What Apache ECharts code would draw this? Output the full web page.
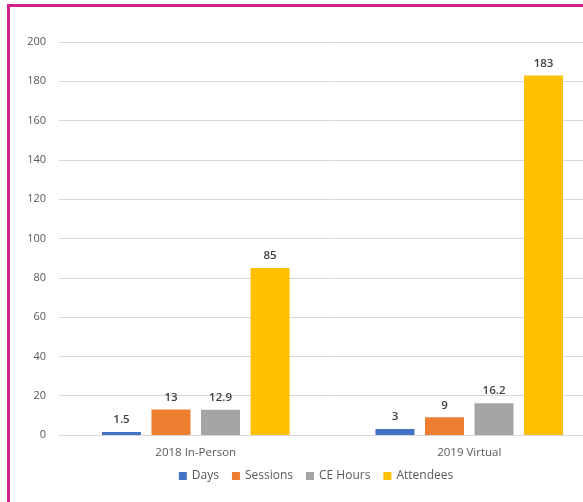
<!DOCTYPE html>
<html>
<head>
<meta charset="utf-8">
<script src="https://cdn.jsdelivr.net/npm/echarts@6/dist/echarts.min.js"></script>
<style>
html,body{margin:0;padding:0;background:#fff;overflow:hidden;width:583px;height:502px;}
#chart{position:absolute;left:0;top:0;width:632px;height:502px;}
#frame{position:absolute;left:7px;top:4px;width:600px;height:520px;border-top:3px solid #D0208E;border-left:3px solid #D0208E;pointer-events:none;}
</style>
</head>
<body>
<div id="chart"></div>
<div id="frame"></div>
<script>
const categories = ['2018 In-Person', '2019 Virtual'];
const days = [1.5, 3];
const sessions = [13, 9];
const ceHours = [12.9, 16.2];
const attendees = [85, 183];
const seriesNames = ['Days', 'Sessions', 'CE Hours', 'Attendees'];
const colors = ['#4472C4', '#ED7D31', '#A5A5A5', '#FFC000'];
const FONT = '"Open Sans", sans-serif';

const chart = echarts.init(document.getElementById('chart'));
const makeSeries = (name, data, color) => ({
  name, type: 'bar', data,
  barWidth: 39, barGap: '27%',
  itemStyle: { color },
  label: { show: true, position: 'top', distance: 6, color: '#404040', fontFamily: FONT, fontSize: 11.5, fontWeight: 600 }
});
chart.setOption({
  animation: false,
  textStyle: { fontFamily: FONT },
  grid: { left: 59, right: 26, top: 42, bottom: 67, containLabel: false },
  legend: {
    data: seriesNames, bottom: 15, left: 'center',
    itemWidth: 8, itemHeight: 8, itemGap: 13, icon: 'rect',
    textStyle: { color: '#595959', fontSize: 12, fontFamily: FONT }
  },
  xAxis: {
    type: 'category', data: categories,
    axisLine: { lineStyle: { color: '#D9D9D9' } },
    axisTick: { show: false },
    axisLabel: { color: '#595959', fontSize: 11.5, margin: 12, fontFamily: FONT }
  },
  yAxis: {
    type: 'value', min: 0, max: 200, interval: 20,
    axisLine: { show: false }, axisTick: { show: false },
    splitLine: { lineStyle: { color: '#D9D9D9', width: 1 } },
    axisLabel: { color: '#595959', fontSize: 11, margin: 13, fontFamily: FONT }
  },
  series: [
    makeSeries(seriesNames[0], days, colors[0]),
    makeSeries(seriesNames[1], sessions, colors[1]),
    makeSeries(seriesNames[2], ceHours, colors[2]),
    makeSeries(seriesNames[3], attendees, colors[3])
  ]
});
</script>
</body>
</html>
